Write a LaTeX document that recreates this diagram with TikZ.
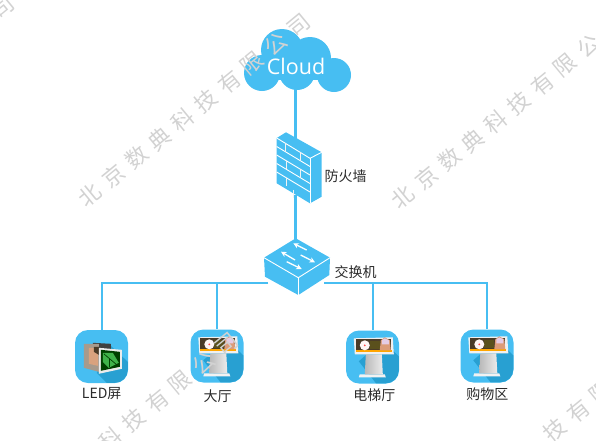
\documentclass[tikz,border=0pt]{standalone}
\usepackage{fontspec}
\setmainfont{Noto Sans CJK SC}
\newfontfamily\cloudfont{Open Sans}
\usetikzlibrary{arrows.meta, positioning}
\definecolor{skyfill}{HTML}{47BEF2}
\definecolor{skydark}{HTML}{28A0D2}
\definecolor{inktext}{HTML}{2A2A2A}
\definecolor{photopeach}{HTML}{D9A27E}
\definecolor{photoframe}{HTML}{A79A8C}
\definecolor{photodark}{HTML}{4A3B28}
\definecolor{leafgreen}{HTML}{3FB24A}
\newcommand{\stamprow}[4]{
	\foreach \ch/\i in {#4}
		\node[stamp] (#1\i) at ({#2+23.2*\i},{#3-18.8*\i}) {\ch};
}
\tikzset{
	linkthick/.style={draw=skyfill, line width=3pt},
	linkthin/.style={draw=skyfill, line width=2pt},
	lbl/.style={font=\fontsize{14}{14}\selectfont, text=inktext, inner sep=0pt},
	iconbox/.style={fill=skyfill, rounded corners=13pt, minimum size=53pt, inner sep=0pt},
	brick/.style={draw=white, line width=.9pt},
	swarrow/.style={draw=white, line width=1.3pt, -{Stealth[length=5.5pt,width=5.5pt]}},
	stamp/.style={font=\fontsize{22}{22}\selectfont, text=gray!35, inner sep=0pt, rotate=39.5},
	kiosk/.pic={
		\begin{scope}
			\clip[rounded corners=13pt] (0,0) rectangle (53,53);
			\fill[skydark] (13,31) -- (21,24) -- (47,20) -- (54,27) -- (54,54) -- (31,54) -- cycle;
		\end{scope}
		\fill[gray!10] (14,44) -- (39,44) -- (40,47) -- (13,47) -- cycle;
		\shade[left color=gray!55, right color=gray!15] (20,24) -- (36,24) -- (37,44) -- (19,44) -- cycle;
		\fill[gray!12] (8,8) -- (47,7) -- (48,24) -- (9,24) -- cycle;
		\fill[photodark] (10,9) -- (45,9) -- (45,20) -- (10,20) -- cycle;
		\fill[orange!70!yellow] (10,20) -- (46,20) -- (46,22) -- (10,22) -- cycle;
		\fill[photodark!70!olive] (24,11) -- (34,11) -- (34,19) -- (24,19) -- cycle;
		\fill[white!85!pink] (19,15) circle (5);
		\fill[red!70] (19,15) circle (1);
		\fill[brown!55!pink] (35,10) -- (39,7) -- (44,10) -- (45,20) -- (34,20) -- cycle;
		\fill[violet!20] (36,10) -- (39,8) -- (43,10) -- (43,14) -- (36,14) -- cycle;
	},
	ledscreen/.pic={
		\begin{scope}
			\clip[rounded corners=13pt] (0,0) rectangle (53,53);
			\fill[skydark] (35,15) -- (54,33) -- (54,54) -- (33,54) -- (22,43) -- cycle;
		\end{scope}
		\fill[black!75] (18,13) -- (36,14) -- (36,24) -- (24,40) -- (18,38) -- cycle;
		\fill[photoframe] (9,14) -- (24,14) -- (24,42) -- (9,38) -- cycle;
		\fill[photopeach] (14,18) -- (23,18) -- (23,36) -- (14,34) -- cycle;
		\fill[photodark] (19,17) -- (24,17) -- (24,25) -- (19,22) -- cycle;
		\fill[white!85!gray] (24,18) -- (47,20) -- (47,39) -- (24,44) -- cycle;
		\fill[green!25!black] (26,20) -- (45,22) -- (45,37) -- (26,41) -- cycle;
		\fill[leafgreen] (28,23) -- (38,23) -- (44,33) -- (34,38) -- (28,32) -- cycle;
		\draw[green!25!black, line width=.7pt] (29,24) -- (42,35);
		\draw[green!25!black, line width=.7pt] (35,29) -- (35,37);
	},
}

\begin{document}
\begin{tikzpicture}[x=1pt, y=-1pt]
	\useasboundingbox (0,0) rectangle (596,440);

	% cloud
	\fill[skyfill] (262,73) circle (18);
	\fill[skyfill] (282,50) circle (21);
	\fill[skyfill] (310,58) circle (21);
	\fill[skyfill] (297,72) circle (18);
	\fill[skyfill] (334,75) circle (17);
	\fill[skyfill] (262,60) rectangle (333,80);
	\node[font=\cloudfont\fontsize{21.5}{21.5}\selectfont, text=white, inner sep=0pt] (cloud) at (296,66) {Cloud};

	\coordinate (cloudfoot) at (295.5,88);
	\coordinate (walltop) at (295.5,140);
	\coordinate (wallfoot) at (295.5,195);
	\coordinate (switchtop) at (295.5,242);
	\coordinate (switchleft) at (268,283);
	\coordinate (switchright) at (324,283);

	% icons
	\node[iconbox] (led) at (101.5,356.5) {};
	\node[iconbox] (hall) at (217,356) {};
	\node[iconbox] (lift) at (372.5,357) {};
	\node[iconbox] (shop) at (487,356) {};
	\pic at (led.north west) {ledscreen};
	\pic at (hall.north west) {kiosk};
	\pic at (lift.north west) {kiosk};
	\pic at (shop.north west) {kiosk};

	% links
	\draw[linkthick] (cloudfoot) -- (walltop);
	\draw[linkthick] (wallfoot) -- (switchtop);
	\draw[linkthin] (switchleft) -| (led.north);
	\draw[linkthin] (switchleft) -| (hall.north);
	\draw[linkthin] (switchright) -| (lift.north);
	\draw[linkthin] (switchright) -| (shop.north);

	% firewall
	\fill[skyfill] (276.7,138) -- (286,132.3) -- (321.7,152.3) -- (321.7,196.7) -- (310,203.3) -- (276.7,183.3) -- cycle;
	\draw[brick] (276.7,138) -- (310,158.3) -- (321.7,152.3);
	\draw[brick] (310,158.3) -- (310,203.3);
	\draw[brick] (276.7,146.5) -- (310,166.5);
	\draw[brick] (276.7,155) -- (310,175);
	\draw[brick] (276.7,163.5) -- (310,183.5);
	\draw[brick] (276.7,172) -- (310,192);
	\draw[brick, gray!10] (285,143) -- (285,151.5);
	\draw[brick, gray!10] (300,152) -- (300,160.5);
	\draw[brick, gray!10] (286,160.5) -- (286,169);
	\draw[brick, gray!10] (300,169) -- (300,177.5);
	\draw[brick, gray!10] (286,177.5) -- (286,186);
	\draw[brick, gray!10] (293.5,190) -- (293.5,198);
	\node[lbl] (walllabel) at (345.7,175.7) {防火墙};

	% switch
	\fill[skyfill] (295.7,238.3) -- (330,257.7) -- (329.3,275) -- (298.3,295) -- (265,276.7) -- (264,257.7) -- cycle;
	\draw[brick] (264,257.7) -- (298.3,277.7) -- (330,257.7);
	\draw[brick] (298.3,277.7) -- (298.3,295);
	\draw[swarrow] (306.7,250) -- (293.3,243.3);
	\draw[swarrow] (295,260) -- (281,251.7);
	\draw[swarrow] (300.7,255) -- (315,262.3);
	\draw[swarrow] (286.7,261.7) -- (301.7,269);
	\node[lbl] (switchlabel) at (355.7,272.3) {交换机};

	\node[lbl] (ledlabel) at (101.7,393.3) {LED屏};
	\node[lbl] (halllabel) at (217.7,396) {大厅};
	\node[lbl] (liftlabel) at (374.3,395) {电梯厅};
	\node[lbl] (shoplabel) at (487.3,394) {购物区};

	% watermark
	\stamprow{wa}{90}{195}{北/0,京/1,数/2,典/3,科/4,技/5,有/6,限/7,公/8,司/9}
	\stamprow{wb}{403}{197}{北/0,京/1,数/2,典/3,科/4,技/5,有/6,限/7,公/8}
	\stamprow{wc}{18}{514}{科/4,技/5,有/6,限/7,公/8,司/9}
	\stamprow{wd}{439}{524}{技/5,有/6,限/7}
	\stamprow{we}{-206}{177}{司/9}
\end{tikzpicture}
\end{document}
